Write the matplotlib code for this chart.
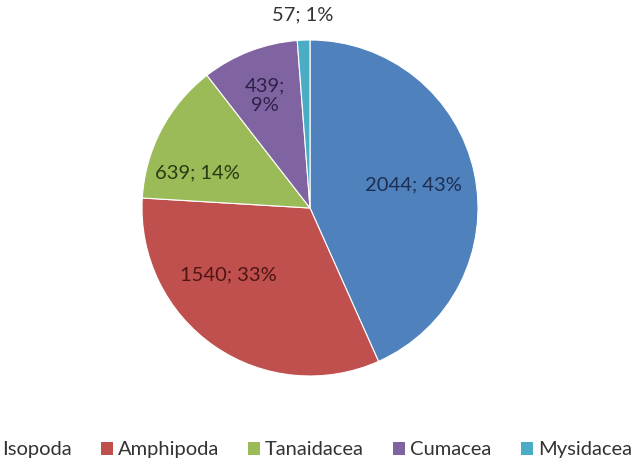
import matplotlib
matplotlib.use("Agg")
import matplotlib.pyplot as plt
import numpy as np
from matplotlib.patches import Patch

categories = ["Isopoda", "Amphipoda", "Tanaidacea", "Cumacea", "Mysidacea"]
counts = [2044, 1540, 639, 439, 57]

colors = ["#4F81BD", "#C0504D", "#9BBB59", "#8064A2", "#4BACC6"]
label_colors = ["#1C2E52", "#4E1514", "#2A3A12", "#2E2148", "#333333"]
label_radius = [0.63, 0.63, 0.70, 0.72, 1.15]
label_angle_offset = [0.6, -16.0, 10.5, 0.7, 0.0]
label_sep = ["; ", "; ", "; ", ";\n", "; "]

plt.rcParams['font.family'] = ['Lato', 'DejaVu Sans']

fig = plt.figure(figsize=(6.37, 4.62), dpi=100)
W, H = 637, 462
cx, cy, r = 310, 208, 168
ax = fig.add_axes([(cx - r) / W, (H - cy - r) / H, 2 * r / W, 2 * r / H])

wedges, _ = ax.pie(counts, colors=colors, startangle=90, counterclock=False,
                   radius=1.0, wedgeprops=dict(edgecolor="white", linewidth=0.8))
ax.set_xlim(-1.0, 1.0)
ax.set_ylim(-1.0, 1.0)
ax.set_aspect("equal")
ax.axis("off")

total = sum(counts)
for i, (w, c) in enumerate(zip(wedges, counts)):
    mid = np.deg2rad((w.theta1 + w.theta2) / 2 + label_angle_offset[i])
    x = label_radius[i] * np.cos(mid)
    y = label_radius[i] * np.sin(mid)
    txt = f"{c}{label_sep[i]}{round(100 * c / total)}%"
    ax.text(x, y, txt, ha="center", va="center", fontsize=14.5,
            color=label_colors[i], linespacing=1.25, clip_on=False)

handles = [Patch(facecolor=col, edgecolor="none") for col in colors]
fig.legend(handles, categories, loc="center", bbox_to_anchor=(0.484, 0.026),
           ncol=5, frameon=False, fontsize=14.5, handlelength=0.6, handleheight=0.6,
           handletextpad=0.25, columnspacing=1.45, labelcolor="#333333")

fig.savefig("out.png", dpi=100, facecolor="white")
